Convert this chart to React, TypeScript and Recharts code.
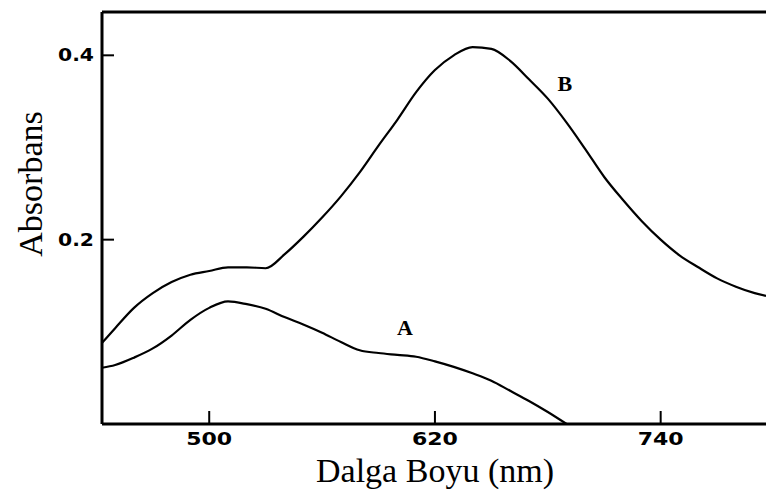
import React from 'react';
import { LineChart, Line, XAxis, YAxis, ReferenceDot } from 'recharts';

// Wavelength grid (nm) and absorbance
const wavelengths = [443, 450, 460, 470, 480, 490, 500, 510, 520, 530, 540, 550, 560, 570, 580, 590, 600, 610, 620, 630, 640, 650, 660, 670, 680, 690, 700, 710, 720, 730, 740, 750, 760, 770, 780, 790, 796];
const absA = [0.061, 0.064, 0.072, 0.082, 0.096, 0.113, 0.126, 0.133, 0.130, 0.125, 0.116, 0.108, 0.099, 0.089, 0.080, 0.077, 0.075, 0.073, 0.068, 0.062, 0.055, 0.047, 0.036, 0.025, 0.013, 0.0];
const absB = [0.088, 0.104, 0.126, 0.142, 0.154, 0.162, 0.166, 0.170, 0.170, 0.169, 0.184, 0.203, 0.224, 0.247, 0.273, 0.302, 0.330, 0.360, 0.384, 0.400, 0.409, 0.407, 0.394, 0.374, 0.353, 0.327, 0.298, 0.268, 0.243, 0.220, 0.200, 0.183, 0.170, 0.158, 0.149, 0.142, 0.139];
const xTicks = [500, 620, 740];
const yTicks = [0.2, 0.4];

const data = wavelengths.map((w, i) => ({ w, A: absA[i], B: absB[i] }));

const tickFont = { fontFamily: 'DejaVu Sans', fontWeight: 700, fontSize: 17, fill: '#000' };
const serif = 'Liberation Serif';

// ticks point inward, labels sit outside the frame
const XTick = (props: any) => {
  const { x, y, payload } = props;
  return (
    <g>
      <line x1={x} y1={y} x2={x} y2={y - 13} stroke="#000" strokeWidth={2} />
      <text x={x} y={y + 21} textAnchor="middle" textLength={46} lengthAdjust="spacingAndGlyphs" {...tickFont}>{payload.value}</text>
    </g>
  );
};

const YTick = (props: any) => {
  const { x, y, payload } = props;
  return (
    <g>
      <line x1={x} y1={y} x2={x + 12} y2={y} stroke="#000" strokeWidth={2} />
      <text x={x - 44} y={y + 6} textLength={36} lengthAdjust="spacingAndGlyphs" {...tickFont}>{payload.value.toFixed(1)}</text>
    </g>
  );
};

const XTitle = (props: any) => {
  const { viewBox } = props;
  return (
    <text x={viewBox.x + viewBox.width / 2 + 1} y={viewBox.y + 58} textAnchor="middle" fontFamily={serif} fontSize={34} fill="#000">
      Dalga Boyu (nm)
    </text>
  );
};

const YTitle = (props: any) => {
  const { viewBox } = props;
  const cx = 42;
  const cy = viewBox.y + 172;
  return (
    <text x={cx} y={cy} transform={`rotate(-90 ${cx} ${cy})`} textAnchor="middle" fontFamily={serif} fontSize={34} fill="#000">
      Absorbans
    </text>
  );
};

const curveLabel = (text: string) => (props: any) => {
  const { viewBox } = props;
  return (
    <text x={viewBox.x} y={viewBox.y + 8} textAnchor="middle" fontFamily={serif} fontWeight={700} fontSize={22} fill="#000">
      {text}
    </text>
  );
};

const App: React.FC = () => {
  return (
    <div style={{ position: 'absolute', left: 0, top: 0, background: '#fff' }}>
      <LineChart width={766} height={491} data={data} margin={{ top: 11, right: 0, bottom: 0, left: 0 }}>
        <XAxis
          dataKey="w"
          type="number"
          domain={[443, 796]}
          ticks={xTicks}
          allowDataOverflow
          height={67}
          tickSize={0}
          tickMargin={0}
          tickLine={false}
          tick={<XTick />}
          axisLine={{ stroke: '#000', strokeWidth: 3 }}
          label={<XTitle />}
        />
        <XAxis xAxisId="top" orientation="top" dataKey="w" type="number" domain={[443, 796]} height={1} tick={false} tickLine={false} axisLine={{ stroke: '#000', strokeWidth: 3 }} />
        <YAxis
          type="number"
          domain={[0, 0.447]}
          ticks={yTicks}
          allowDataOverflow
          width={102}
          tickSize={0}
          tickMargin={0}
          tickLine={false}
          tick={<YTick />}
          axisLine={{ stroke: '#000', strokeWidth: 3 }}
          label={<YTitle />}
        />
        <Line dataKey="A" type="monotone" stroke="#000" strokeWidth={2.2} dot={false} isAnimationActive={false} />
        <Line dataKey="B" type="monotone" stroke="#000" strokeWidth={2.2} dot={false} isAnimationActive={false} />
        <ReferenceDot x={604} y={0.105} r={0} stroke="none" label={curveLabel('A')} />
        <ReferenceDot x={689} y={0.37} r={0} stroke="none" label={curveLabel('B')} />
      </LineChart>
    </div>
  );
};

export default App;
